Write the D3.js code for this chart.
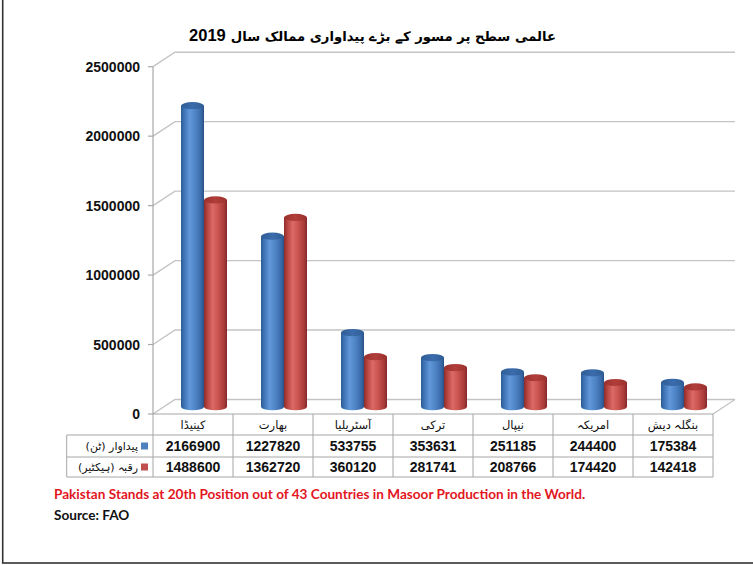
<!DOCTYPE html>
<html>
<head>
<meta charset="utf-8">
<script src="https://cdn.jsdelivr.net/npm/d3@7"></script>
<style>
  html, body { margin: 0; padding: 0; background: #fff; }
  svg { display: block; }
</style>
</head>
<body>
<svg id="chart" width="753" height="565"></svg>
<script>
// ---- data ----
const categories = ["کینیڈا", "بھارت", "آسٹریلیا", "ترکی", "نیپال", "امریکہ", "بنگلہ دیش"];
const seriesNames = ["پیداوار  (ٹن)", "رقبہ  (ہیکٹیر)"];
const production = [2166900, 1227820, 533755, 353631, 251185, 244400, 175384];
const area = [1488600, 1362720, 360120, 281741, 208766, 174420, 142418];
const yTicks = [0, 500000, 1000000, 1500000, 2000000, 2500000];
const titleWords = "عالمی سطح پر مسور کے بڑے پیداواری ممالک سال";
const titleYear = "2019";
const noteText = "Pakistan Stands at 20th Position out of 43 Countries in Masoor Production in the World.";
const sourceText = "Source: FAO";

const series = [
  { name: seriesNames[0], values: production, key: "blue" },
  { name: seriesNames[1], values: area, key: "red" }
];

const svg = d3.select("#chart");
const W = 753, H = 565;

// layout
const plotLeft = 153, plotRight = 713, floorY = 414, topY = 66.7;
const depthX = 22, depthY = -14.5;
const tableLeft = 66.7;
const rowH = [21, 22, 20];

const x = d3.scaleBand().domain(categories).range([plotLeft, plotRight]).paddingInner(0).paddingOuter(0);
const y = d3.scaleLinear().domain([0, 2500000]).range([floorY, topY]);

// defs: gradients
const defs = svg.append("defs");
function makeGrad(id, stops) {
  const g = defs.append("linearGradient").attr("id", id).attr("x1", "0%").attr("x2", "100%").attr("y1", "0%").attr("y2", "0%");
  stops.forEach(s => g.append("stop").attr("offset", s[0]).attr("stop-color", s[1]));
}
makeGrad("gBlue", [["0%", "#2d5b92"], ["12%", "#3c71b3"], ["38%", "#6098da"], ["62%", "#4f84c6"], ["88%", "#386aa9"], ["100%", "#2a5085"]]);
makeGrad("gRed", [["0%", "#8e2b29"], ["12%", "#b2403d"], ["38%", "#dc6a66"], ["62%", "#c9534f"], ["88%", "#a63936"], ["100%", "#83262a"]]);
makeGrad("gBlueTop", [["0%", "#2f5d96"], ["50%", "#3b6cab"], ["100%", "#2f5d96"]]);
makeGrad("gRedTop", [["0%", "#9a302d"], ["50%", "#b13e3a"], ["100%", "#9a302d"]]);

// outer frame
svg.append("rect").attr("x", 2.7).attr("y", -5).attr("width", W + 10).attr("height", 568)
  .attr("fill", "none").attr("stroke", "#333").attr("stroke-width", 1.6);

// title: Urdu words + year
const titleRight = 556;
const tWords = svg.append("text")
  .attr("x", titleRight).attr("y", 41)
  .attr("text-anchor", "start")
  .style("direction", "rtl")
  .attr("font-family", "'DejaVu Sans', sans-serif")
  .attr("font-weight", "bold")
  .attr("font-size", 13.2)
  .attr("fill", "#000")
  .text(titleWords);
const wordsLen = tWords.node().getComputedTextLength();
svg.append("text")
  .attr("x", titleRight - wordsLen - 5).attr("y", 41)
  .attr("text-anchor", "end")
  .attr("font-family", "'Liberation Sans', Arial, sans-serif")
  .attr("font-weight", "bold")
  .attr("font-size", 16.5)
  .attr("fill", "#000")
  .text(titleYear);

// gridlines (side wall diagonal + back wall horizontal)
const grid = svg.append("g").attr("fill", "none").attr("stroke", "#c4c4c4").attr("stroke-width", 1.4);
yTicks.forEach(t => {
  const yf = y(t);
  grid.append("path").attr("d", d3.line()([[plotLeft, yf], [plotLeft + depthX, yf + depthY], [plotRight + depthX, yf + depthY]]));
});
grid.append("path").attr("d", d3.line()([[plotRight, floorY], [plotRight + depthX, floorY + depthY]]));

// front vertical axis
svg.append("line").attr("x1", plotLeft).attr("x2", plotLeft).attr("y1", topY).attr("y2", floorY)
  .attr("stroke", "#a8a8a8").attr("stroke-width", 1.2);

// y tick marks and labels
const yAxisG = svg.append("g");
yTicks.forEach(t => {
  yAxisG.append("line").attr("x1", plotLeft - 5).attr("x2", plotLeft).attr("y1", y(t)).attr("y2", y(t))
    .attr("stroke", "#a8a8a8").attr("stroke-width", 1.2);
  yAxisG.append("text")
    .attr("x", 140).attr("y", y(t)).attr("dy", "0.36em")
    .attr("text-anchor", "end")
    .attr("font-family", "'Liberation Sans', Arial, sans-serif")
    .attr("font-weight", "bold").attr("font-size", 14).attr("fill", "#111")
    .text(t);
});

// bars (cylinders) at mid depth
const midDX = depthX / 2, midDY = depthY / 2;
const barW = 23;
const inner = d3.scaleBand().domain([0, 1]).range([0, barW * 2]).paddingInner(0);
const ry = 3.6;
const barsG = svg.append("g");
categories.forEach((c, i) => {
  const cx = x(c) + x.bandwidth() / 2 + midDX;
  const groupLeft = cx - barW;
  series.forEach((s, si) => {
    const x0 = groupLeft + inner(si);
    const w = inner.bandwidth();
    const rx = w / 2;
    const yT = y(s.values[i]) + midDY;
    const yB = y(0) + midDY;
    const body = `M${x0},${yT} L${x0},${yB} A${rx},${ry} 0 0 0 ${x0 + w},${yB} L${x0 + w},${yT} Z`;
    barsG.append("path").attr("d", body)
      .attr("fill", s.key === "blue" ? "url(#gBlue)" : "url(#gRed)");
    barsG.append("ellipse").attr("cx", x0 + rx).attr("cy", yT).attr("rx", rx).attr("ry", ry)
      .attr("fill", s.key === "blue" ? "url(#gBlueTop)" : "url(#gRedTop)");
  });
});

// data table
const tableG = svg.append("g");
const rowTop = [floorY, floorY + rowH[0], floorY + rowH[0] + rowH[1]];
const tableBottom = rowTop[2] + rowH[2];
const borderColor = "#a6a6a6";
function hline(x1, x2, yy) {
  tableG.append("line").attr("x1", x1).attr("x2", x2).attr("y1", yy).attr("y2", yy)
    .attr("stroke", borderColor).attr("stroke-width", 1);
}
function vline(xx, y1, y2) {
  tableG.append("line").attr("x1", xx).attr("x2", xx).attr("y1", y1).attr("y2", y2)
    .attr("stroke", borderColor).attr("stroke-width", 1);
}
hline(plotLeft, plotRight, rowTop[0]);
hline(tableLeft, plotRight, rowTop[1]);
hline(tableLeft, plotRight, rowTop[2]);
hline(tableLeft, plotRight, tableBottom);
vline(tableLeft, rowTop[1], tableBottom);
categories.forEach(c => vline(x(c), rowTop[0], tableBottom));
vline(plotRight, rowTop[0], tableBottom);

// category headers
categories.forEach(c => {
  tableG.append("text")
    .attr("x", x(c) + x.bandwidth() / 2).attr("y", rowTop[0] + rowH[0] / 2).attr("dy", "0.35em")
    .attr("text-anchor", "middle").style("direction", "rtl")
    .attr("font-family", "'DejaVu Sans', sans-serif")
    .attr("font-size", 11.5).attr("fill", "#111")
    .text(c);
});
// values rows
series.forEach((s, si) => {
  const ry0 = rowTop[si + 1], rh = rowH[si + 1];
  categories.forEach((c, i) => {
    tableG.append("text")
      .attr("x", x(c) + x.bandwidth() / 2).attr("y", ry0 + rh / 2).attr("dy", "0.36em")
      .attr("text-anchor", "middle")
      .attr("font-family", "'Liberation Sans', Arial, sans-serif")
      .attr("font-weight", "bold").attr("font-size", 14).attr("fill", "#111")
      .text(s.values[i]);
  });
  tableG.append("rect").attr("x", 141).attr("y", ry0 + rh / 2 - 3.5).attr("width", 7).attr("height", 7)
    .attr("fill", s.key === "blue" ? "#4f81bd" : "#c0504d");
  tableG.append("text")
    .attr("x", 138).attr("y", ry0 + rh / 2).attr("dy", "0.35em")
    .attr("text-anchor", "start").style("direction", "rtl")
    .attr("font-family", "'DejaVu Sans', sans-serif")
    .attr("font-size", 11).attr("fill", "#111")
    .text(s.name);
});

// footer notes
svg.append("text").attr("x", 54).attr("y", 499)
  .attr("font-family", "Lato, 'Open Sans', sans-serif").attr("font-weight", "bold")
  .attr("font-size", 13.6).attr("fill", "#e3161f")
  .text(noteText);
svg.append("text").attr("x", 54).attr("y", 520)
  .attr("font-family", "Lato, 'Open Sans', sans-serif").attr("font-weight", "bold")
  .attr("font-size", 13.6).attr("fill", "#111")
  .text(sourceText);
</script>
</body>
</html>
